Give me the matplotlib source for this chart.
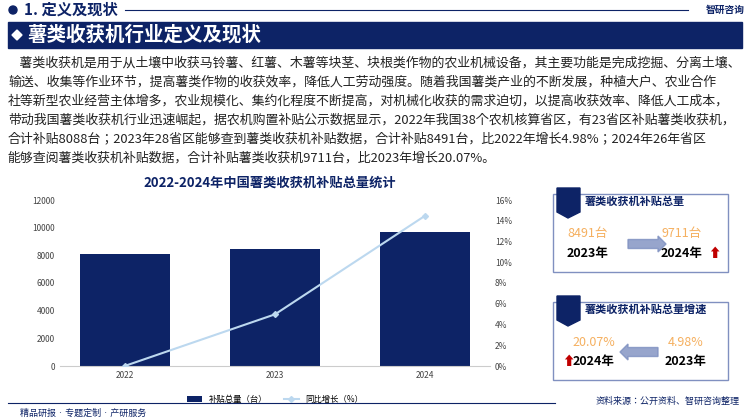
import matplotlib.pyplot as plt
from matplotlib.patches import Rectangle, FancyArrow, Polygon
import matplotlib.ticker as mt

plt.rcParams["font.family"] = "sans-serif"
plt.rcParams["font.sans-serif"] = ["Noto Sans CJK SC", "Noto Sans CJK JP", "DejaVu Sans"]

years = ["2022", "2023", "2024"]
subsidy = [8088, 8491, 9711]
growth = [0, 4.98, 14.5]

para = [
    "    薯类收获机是用于从土壤中收获马铃薯、红薯、木薯等块茎、块根类作物的农业机械设备，其主要功能是完成挖掘、分离土壤、",
    "输送、收集等作业环节，提高薯类作物的收获效率，降低人工劳动强度。随着我国薯类产业的不断发展，种植大户、农业合作",
    "社等新型农业经营主体增多，农业规模化、集约化程度不断提高，对机械化收获的需求迫切，以提高收获效率、降低人工成本，",
    "带动我国薯类收获机行业迅速崛起，据农机购置补贴公示数据显示，2022年我国38个农机核算省区，有23省区补贴薯类收获机，",
    "合计补贴8088台；2023年28省区能够查到薯类收获机补贴数据，合计补贴8491台，比2022年增长4.98%；2024年26年省区",
    "能够查阅薯类收获机补贴数据，合计补贴薯类收获机9711台，比2023年增长20.07%。",
]

navy = "#0d2366"
W, H = 750, 420
fig = plt.figure(figsize=(7.5, 4.2), dpi=100)
bg = fig.add_axes([0, 0, 1, 1])
bg.set_xlim(0, W); bg.set_ylim(H, 0); bg.axis("off")

# header
bg.add_patch(plt.Circle((13, 10), 4, color=navy))
bg.text(24, 10, "1. 定义及现状", fontsize=11, fontweight="bold", color=navy, va="center")
bg.plot([125, 688], [10, 10], color=navy, lw=0.8)
bg.text(745, 10, "智研咨询", fontsize=7, fontweight="bold", color=navy, va="center", ha="right")
bg.add_patch(Rectangle((8, 22), 734, 26, color=navy))
bg.add_patch(Polygon([[12, 35], [17, 30], [22, 35], [17, 40]], color="white"))
bg.text(28, 35, "薯类收获机行业定义及现状", fontsize=14, fontweight="bold", color="white", va="center")

for i, line in enumerate(para):
    bg.text(8, 63 + i * 19, line, fontsize=9.3, color="#222222", va="center")

bg.text(270, 183, "2022-2024年中国薯类收获机补贴总量统计", fontsize=9.5, fontweight="bold",
        color=navy, ha="center", va="center")

# right panels
def panel(y0, title, v1, y1, v2, y2, x1, x2, left_arrow):
    bg.add_patch(Rectangle((553, y0), 175, 78, fill=False, ec="#8090c0", lw=1))
    bg.add_patch(Polygon([[557, y0 - 6], [580, y0 - 6], [580, y0 + 18], [568, y0 + 24], [557, y0 + 18]], color=navy))
    bg.text(585, y0 + 7, title, fontsize=8, fontweight="bold", color=navy, va="center")
    bg.text(x1, y0 + 40, v1, fontsize=9, color="#f5b060", va="center", ha="center")
    bg.text(x2, y0 + 40, v2, fontsize=9, color="#f5b060", va="center", ha="center")
    bg.text(x1, y0 + 60, y1, fontsize=9, fontweight="bold", color="black", va="center", ha="center")
    bg.text(x2, y0 + 60, y2, fontsize=9, fontweight="bold", color="black", va="center", ha="center")
    if left_arrow:
        bg.add_patch(FancyArrow(658, y0 + 50, -30, 0, width=9, head_width=16, head_length=8,
                                color="#7d8fc0", alpha=0.8))
    else:
        bg.add_patch(FancyArrow(628, y0 + 50, 30, 0, width=9, head_width=16, head_length=8,
                                color="#7d8fc0", alpha=0.8))

panel(194, "薯类收获机补贴总量", "8491台", "2023年", "9711台", "2024年", 588, 682, False)
bg.text(714, 254, "⬆", fontsize=9, color="#c00000", va="center", ha="center")
panel(302, "薯类收获机补贴总量增速", "20.07%", "2024年", "4.98%", "2023年", 594, 686, True)
bg.text(568, 362, "⬆", fontsize=9, color="#c00000", va="center", ha="center")

# footer
bg.plot([8, 555], [403, 403], color=navy, lw=0.8)
bg.text(20, 413, "精品研报 · 专题定制 · 产研服务", fontsize=6.5, color=navy, va="center")
bg.text(740, 401, "资料来源：公开资料、智研咨询整理", fontsize=6.5, color=navy, va="center", ha="right")

# chart
ax = fig.add_axes([60 / W, 1 - 366 / H, 430 / W, 166 / H])
ax.bar(years, subsidy, width=0.6, color=navy, label="补贴总量（台）")
ax.set_ylim(0, 12000)
ax.set_yticks(range(0, 12001, 2000))
ax2 = ax.twinx()
ax2.plot(years, growth, color="#bcd8ef", lw=1.5, marker="D", ms=3, label="同比增长（%）")
ax2.set_ylim(0, 16)
ax2.set_yticks(range(0, 17, 2))
ax2.yaxis.set_major_formatter(mt.FuncFormatter(lambda v, p: f"{v:.0f}%"))
for a in (ax, ax2):
    for s in a.spines.values():
        s.set_visible(False)
    a.tick_params(length=0, labelsize=6, colors="#444444")
ax.spines["bottom"].set_visible(True)
ax.spines["bottom"].set_color("#cccccc")
h1, l1 = ax.get_legend_handles_labels()
h2, l2 = ax2.get_legend_handles_labels()
ax.legend(h1 + h2, l1 + l2, loc="upper center", bbox_to_anchor=(0.5, -0.13), ncol=2,
          frameon=False, fontsize=6, handlelength=1.8)

fig.savefig("out.png", dpi=100)
